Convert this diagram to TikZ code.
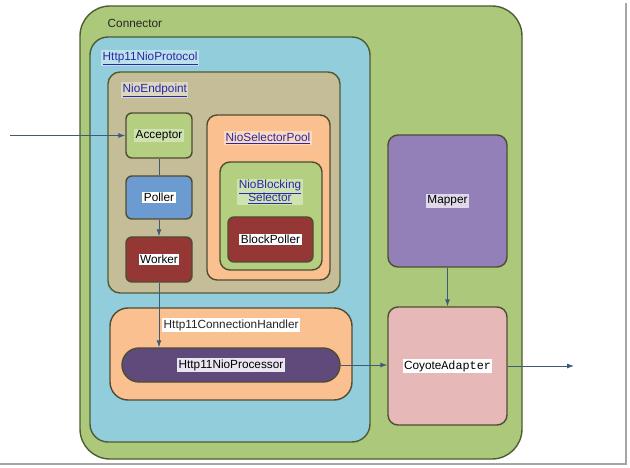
\documentclass[tikz,border=0pt]{standalone}
\usepackage{fontspec}
\setmainfont{Liberation Sans}
\setmonofont{Liberation Mono}
\usetikzlibrary{arrows.meta}

\definecolor{connfill}{RGB}{172,200,122}
\definecolor{connedge}{RGB}{78,92,50}
\definecolor{protofill}{RGB}{146,205,220}
\definecolor{endfill}{RGB}{196,189,151}
\definecolor{boxedge}{RGB}{80,76,52}
\definecolor{lightgreen}{RGB}{179,207,127}
\definecolor{pollfill}{RGB}{108,155,210}
\definecolor{darkred}{RGB}{149,55,53}
\definecolor{peach}{RGB}{250,192,144}
\definecolor{procfill}{RGB}{96,74,123}
\definecolor{mapfill}{RGB}{148,128,184}
\definecolor{pinkfill}{RGB}{230,185,184}
\definecolor{arrowcol}{RGB}{62,90,120}
\definecolor{linkblue}{RGB}{40,40,170}

\newcommand{\whitetag}[2][white]{{\setlength{\fboxsep}{1.5pt}\colorbox{#1}{#2}}}

\tikzset{
  box/.style={draw=boxedge, line width=1.4pt, inner sep=0pt},
  title/.style={inner sep=1.5pt, text=black!85},
  link/.style={fill=white, fill opacity=0.4, text opacity=1, text=linkblue, inner sep=1.5pt, align=center},
  flow/.style={draw=arrowcol, line width=0.9pt},
}

\begin{document}
\begin{tikzpicture}[x=1pt, y=-1pt, font=\fontsize{11.8}{13.5}\selectfont, >={Latex[length=7pt,width=5pt]}]
  \useasboundingbox (0,0) rectangle (630,468);
  % frame shadow
  \draw[gray!70, line width=2pt] (626,3) -- (626,464) -- (0,464);

  % Connector
  \node[box, draw=connedge, fill=connfill, rounded corners=30pt, minimum width=442pt, minimum height=453pt] (connector) at (301,232.5) {};
  \node[title, anchor=west] (conntitle) at (106,23) {Connector};

  % Http11NioProtocol
  \node[box, draw=connedge, fill=protofill, rounded corners=18pt, minimum width=280pt, minimum height=405pt] (protocol) at (230,239.5) {};
  \node[link, anchor=west] (prototitle) at (101,58) {\underline{Http11NioProtocol}};

  % NioEndpoint
  \node[box, draw=connedge, fill=endfill, rounded corners=12pt, minimum width=232pt, minimum height=221pt] (endpoint) at (224,182.5) {};
  \node[link, anchor=west] (endtitle) at (121,90) {\underline{NioEndpoint}};

  % Acceptor, Poller, Worker
  \node[box, fill=lightgreen, rounded corners=6pt, minimum width=66pt, minimum height=45pt] (acceptor) at (159,135.5) {\whitetag[white!40!lightgreen]{Acceptor}};
  \node[box, fill=pollfill, rounded corners=6pt, minimum width=66pt, minimum height=43pt] (poller) at (159,197.5) {\whitetag{Poller}};
  \node[box, fill=darkred, rounded corners=6pt, minimum width=66pt, minimum height=45pt] (worker) at (159,259.5) {\whitetag{Worker}};

  % NioSelectorPool
  \node[box, fill=peach, rounded corners=10pt, minimum width=123pt, minimum height=165pt] (pool) at (268.5,197.5) {};
  \node[link] (pooltitle) at (268,138) {\underline{NioSelectorPool}};
  \node[box, fill=lightgreen, rounded corners=10pt, minimum width=102pt, minimum height=108pt] (blocking) at (271,216) {};
  \node[link] (blocktitle) at (270,192) {\underline{NioBlocking}\\[-1pt]\underline{Selector}};
  \node[box, fill=darkred, rounded corners=6pt, minimum width=85pt, minimum height=45pt] (blockpoller) at (270.5,239.5) {\whitetag{BlockPoller}};

  % Http11ConnectionHandler
  \node[box, fill=peach, rounded corners=18pt, minimum width=242pt, minimum height=92pt] (handler) at (231,354) {};
  \node[title, fill=white, anchor=west] (handlertitle) at (162,325) {Http11ConnectionHandler};
  \node[box, fill=procfill, rounded corners=17pt, minimum width=218pt, minimum height=34pt] (processor) at (231,365) {\whitetag[white!80!mapfill]{Http11NioProcessor}};

  % Mapper and CoyoteAdapter
  \node[box, fill=mapfill, rounded corners=10pt, minimum width=119pt, minimum height=132pt] (mapper) at (447.5,201) {\whitetag[white!70!mapfill]{Mapper}};
  \node[box, fill=pinkfill, rounded corners=10pt, minimum width=119pt, minimum height=118pt] (coyote) at (447.5,366) {\whitetag{Coyote\texttt{Adapter}}};

  % connectors
  \coordinate (in) at (10,135.5);
  \coordinate (out) at (574,366);
  \draw[flow, ->] (in) -- (acceptor.west);
  \draw[flow] (acceptor.south) -- (poller.north);
  \draw[flow, ->] (poller.south) -- (worker.north);
  \draw[flow, ->] (worker.south) -- (worker.south |- processor.north);
  \draw[flow, ->] (processor.east) -- (processor.east -| coyote.west);
  \draw[flow, ->] (mapper.south) -- (coyote.north);
  \draw[flow, ->] (coyote.east) -- (out);
\end{tikzpicture}
\end{document}
